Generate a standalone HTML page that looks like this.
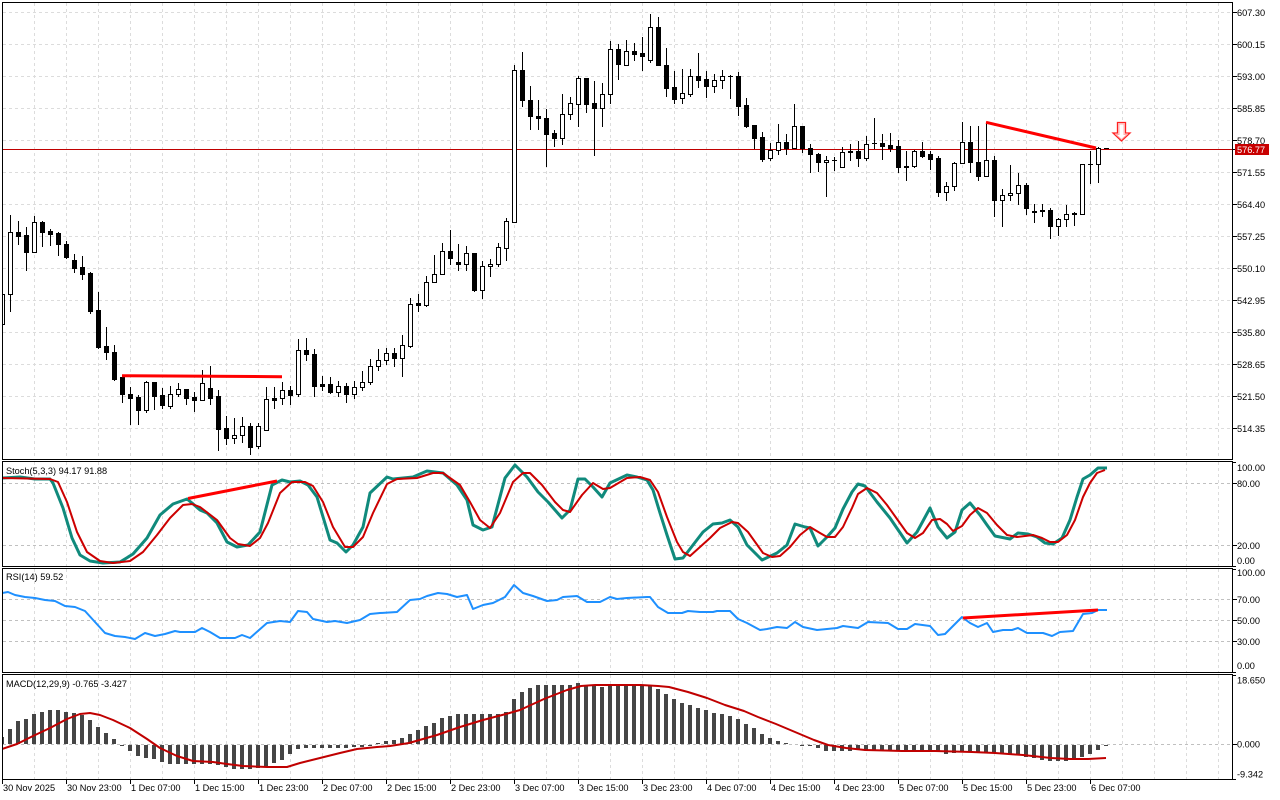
<!DOCTYPE html>
<html><head><meta charset="utf-8">
<style>
html,body{margin:0;padding:0;background:#fff;}
svg{display:block;}
text{font-family:"Liberation Sans",sans-serif;font-size:9.2px;fill:#000;}
</style></head><body>
<svg id="s" width="1280" height="800" viewBox="0 0 1280 800" xmlns="http://www.w3.org/2000/svg">
<rect width="1280" height="800" fill="#fff"/>
<defs>
<clipPath id="cm"><rect x="2" y="2" width="1230" height="457"/></clipPath>
<clipPath id="cs"><rect x="3" y="462" width="1229" height="104"/></clipPath>
<clipPath id="cr"><rect x="3" y="569" width="1229" height="103"/></clipPath>
<clipPath id="cd"><rect x="3" y="675" width="1229" height="104"/></clipPath>
</defs>

<g id="grid" shape-rendering="crispEdges"></g>

<!-- main pane content -->
<g clip-path="url(#cm)">
  <line x1="2" y1="149.5" x2="1232" y2="149.5" stroke="#c00000" stroke-width="1" shape-rendering="crispEdges"/>
  <g id="cndl" shape-rendering="crispEdges"></g>
  <line x1="122" y1="375.7" x2="282" y2="376.7" stroke="#ff0000" stroke-width="3"/>
  <line x1="986" y1="122.3" x2="1096" y2="148" stroke="#ff0000" stroke-width="3"/>
  <polygon points="1117.5,122.5 1125.5,122.5 1125.5,133 1130,133 1121.5,141 1113,133 1117.5,133" fill="#fff" stroke="#ff2020" stroke-width="1.3"/>
  <polygon points="1119,124 1124,124 1124,134.5 1127,134.5 1121.5,139.5 1116,134.5 1119,134.5" fill="none" stroke="#ffb0b0" stroke-width="1"/>
</g>

<!-- stochastic -->
<g clip-path="url(#cs)" fill="none" stroke-linejoin="round">
  <polyline stroke="#108a7c" stroke-width="3" points="2,478 20,477 35,479 50,479 53,483 63,508 72,538 80,555 90,561 103,563 120,562 133,554 147,538 160,515 173,504 187,499 192,503 200,510 207,513 217,523 227,542 237,547 248,545 260,532 272,485 282,480 290,482 300,481 308,485 317,497 330,540 337,543 346,552 353,545 363,527 370,493 387,477 393,479 413,477 427,471 443,473 457,485 467,500 473,525 483,530 492,527 505,478 515,465 527,477 538,492 548,502 562,518 570,510 578,479 585,479 593,487 602,497 610,483 627,475 637,477 647,480 653,490 660,513 667,535 675,559 683,558 693,545 703,532 713,524 722,523 730,520 738,527 747,545 762,560 777,553 787,545 795,524 805,527 810,528 818,546 827,537 835,528 843,509 852,492 858,484 865,486 877,502 890,518 907,543 917,532 930,508 938,527 947,538 955,532 962,510 970,503 980,515 987,525 995,536 1010,539 1018,533 1028,534 1037,537 1045,543 1053,544 1062,538 1070,520 1077,497 1083,479 1090,475 1098,468 1107,468"/>
  <polyline stroke="#cc0000" stroke-width="2" points="2,478 50,479 58,482 67,502 77,532 87,552 100,561 113,563 130,561 143,552 157,535 170,518 183,505 192,504 200,507 217,520 230,538 238,544 250,546 260,538 268,523 280,493 292,482 305,482 313,486 323,502 333,527 345,547 353,547 363,537 373,513 387,484 397,479 417,478 433,473 443,473 460,485 470,502 480,520 490,528 500,513 513,482 523,473 530,473 542,485 555,502 563,510 570,512 582,495 593,483 603,489 610,488 627,478 640,477 650,480 658,492 667,517 677,542 683,552 690,556 700,547 710,538 720,528 732,522 738,523 748,532 763,553 772,557 780,556 790,547 800,535 810,527 820,533 827,537 835,537 843,527 852,508 858,494 867,488 877,493 887,505 897,519 907,533 915,538 923,533 932,520 940,519 947,524 953,531 962,526 970,515 978,508 987,513 997,525 1007,535 1017,537 1033,535 1042,538 1050,542 1058,542 1067,535 1075,520 1083,497 1090,483 1097,473 1105,470"/>
  <line x1="188" y1="498.5" x2="277" y2="481" stroke="#ff0000" stroke-width="3"/>
</g>

<!-- RSI -->
<g clip-path="url(#cr)" fill="none" stroke-linejoin="round">
  <polyline stroke="#1e90ff" stroke-width="2" points="2,593 8,592 15,595 25,597 35,598 45,600 55,601 65,606 75,607 85,611 95,622 105,633 115,636 125,637 135,639 145,633 155,636 165,634 175,631 180,632 195,632 202,628 210,632 220,638 235,638 242,635 250,638 267,623 280,621 290,622 298,611 307,612 313,619 327,622 335,621 347,623 360,620 370,614 380,613 397,612 410,600 420,599 427,596 438,593 447,594 457,597 467,595 473,609 483,605 493,603 505,597 514,585 523,593 533,596 547,601 557,600 563,597 577,596 587,602 600,602 610,597 617,599 627,598 647,597 650,597 658,607 668,613 682,613 688,611 700,612 713,612 717,611 730,611 738,619 747,623 760,630 767,629 777,627 787,628 795,622 803,627 817,630 837,628 843,626 858,628 868,622 888,623 898,629 907,629 915,624 930,626 938,635 945,634 962,617 970,623 978,627 987,623 993,632 1003,630 1012,630 1018,628 1027,633 1043,633 1052,636 1060,632 1073,631 1083,614 1092,613 1098,610 1107,610"/>
  <line x1="963" y1="618" x2="1098" y2="610" stroke="#ff0000" stroke-width="3"/>
</g>

<!-- MACD -->
<g clip-path="url(#cd)">
  <path id="hist" fill="#454545" shape-rendering="crispEdges" d=""/>
  <polyline fill="none" stroke="#c00000" stroke-width="2" stroke-linejoin="round" points="2,749 17,744 33,736 50,728 67,719 80,714 90,713 100,715 113,720 130,728 147,739 160,748 177,756 193,761 213,762 227,764 243,766 267,767 287,767 300,763 320,758 340,753 357,749 377,747 390,746 409,743 437,735 460,727 483,720 506,714 520,710 544,699 567,690 581,686 595,685 641,685 658,686 669,687 688,692 707,698 725,705 744,711 758,717 776,724 795,732 814,740 828,745 846,748 865,750 902,751 935,751 972,752 995,753 1023,755 1051,758 1070,759 1088,759 1106,758"/>
</g>

<!-- pane borders -->
<g fill="none" stroke="#000" stroke-width="1" shape-rendering="crispEdges">
  <rect x="2.5" y="2.5" width="1230" height="457"/>
  <rect x="2.5" y="461.5" width="1230" height="105"/>
  <rect x="2.5" y="568.5" width="1230" height="104"/>
  <rect x="2.5" y="674.5" width="1230" height="105"/>
</g>
<g id="ticks" stroke="#000" stroke-width="1" shape-rendering="crispEdges"></g>

<!-- indicator labels -->
<text x="6" y="474">Stoch(5,3,3) 94.17 91.88</text>
<text x="6" y="580">RSI(14) 59.52</text>
<text x="6" y="687">MACD(12,29,9) -0.765 -3.427</text>

<!-- price axis -->
<g>
<text x="1237" y="16">607.30</text>
<text x="1237" y="48">600.15</text>
<text x="1237" y="80">593.00</text>
<text x="1237" y="112">585.85</text>
<text x="1237" y="144">578.70</text>
<text x="1237" y="176">571.55</text>
<text x="1237" y="208">564.40</text>
<text x="1237" y="240">557.25</text>
<text x="1237" y="272">550.10</text>
<text x="1237" y="304">542.95</text>
<text x="1237" y="336">535.80</text>
<text x="1237" y="368">528.65</text>
<text x="1237" y="400">521.50</text>
<text x="1237" y="432">514.35</text>
<rect x="1235" y="144" width="34" height="11" fill="#c80000"/>
<text x="1237" y="153" style="fill:#fff">576.77</text>

<text x="1237" y="471">100.00</text>
<text x="1237" y="487">80.00</text>
<text x="1237" y="549">20.00</text>
<text x="1237" y="564">0.00</text>

<text x="1237" y="576">100.00</text>
<text x="1237" y="603">70.00</text>
<text x="1237" y="624">50.00</text>
<text x="1237" y="645">30.00</text>
<text x="1237" y="669">0.00</text>

<text x="1237" y="683.5">18.650</text>
<text x="1237" y="747.5">0.000</text>
<text x="1237" y="777.5">-9.342</text>
</g>

<!-- time axis -->
<g>
<text x="3" y="791">30 Nov 2025</text>
<text x="67" y="791">30 Nov 23:00</text>
<text x="131" y="791">1 Dec 07:00</text>
<text x="195" y="791">1 Dec 15:00</text>
<text x="259" y="791">1 Dec 23:00</text>
<text x="323" y="791">2 Dec 07:00</text>
<text x="387" y="791">2 Dec 15:00</text>
<text x="451" y="791">2 Dec 23:00</text>
<text x="515" y="791">3 Dec 07:00</text>
<text x="579" y="791">3 Dec 15:00</text>
<text x="643" y="791">3 Dec 23:00</text>
<text x="707" y="791">4 Dec 07:00</text>
<text x="771" y="791">4 Dec 15:00</text>
<text x="835" y="791">4 Dec 23:00</text>
<text x="899" y="791">5 Dec 07:00</text>
<text x="963" y="791">5 Dec 15:00</text>
<text x="1027" y="791">5 Dec 23:00</text>
<text x="1091" y="791">6 Dec 07:00</text>
</g>
</svg>

<script>
(function(){
var NS="http://www.w3.org/2000/svg";
function mk(parent,tag,attrs){var e=document.createElementNS(NS,tag);for(var k in attrs)e.setAttribute(k,attrs[k]);parent.appendChild(e);return e;}

/* grid */
var grid=document.getElementById('grid');
var v='',h='',lv='';
for(var x=34;x<=1218;x+=32){
  v+='M'+(x+.5)+' 3V459M'+(x+.5)+' 462V566M'+(x+.5)+' 569V672M'+(x+.5)+' 675V779';
}
for(var y=12;y<=428;y+=32){h+='M3 '+(y+.5)+'H1232';}
[483,545,599,620,641,744].forEach(function(y){lv+='M3 '+(y+.5)+'H1232';});
mk(grid,'path',{d:v,stroke:'#dcdcdc','stroke-width':1,'stroke-dasharray':'3,3',fill:'none'});
mk(grid,'path',{d:h,stroke:'#dcdcdc','stroke-width':1,'stroke-dasharray':'3,3',fill:'none'});
mk(grid,'path',{d:lv,stroke:'#c0c0c0','stroke-width':1,'stroke-dasharray':'3,3',fill:'none'});

/* candles: [bull, bodyTop, bodyBottom, wickTop, wickBottom] */
var D=[
[1,294,324,294,324],[1,232,294,215,311],[0,232,236,221,244],[0,235,252,227,270],[1,222,252,216,252],
[0,222,232,221,246],[0,231,234,229,245],[0,233,244,232,255],[0,244,257,241,258],[0,260,268,254,272],
[0,267,274,256,279],[0,273,311,272,313],[0,310,347,292,348],[0,346,352,327,359],[0,352,379,345,380],
[0,377,394,375,402],[0,394,398,387,424],[0,397,410,395,424],[1,382,410,381,412],[0,382,396,382,409],
[0,395,405,388,408],[1,394,406,386,408],[1,389,394,383,396],[0,389,398,389,404],[0,397,400,392,411],
[1,383,400,370,400],[0,388,398,366,404],[0,396,429,390,450],[0,428,438,416,444],[1,435,438,418,443],
[1,426,435,417,442],[0,426,447,423,454],[1,426,446,423,448],[1,399,430,387,430],[0,398,400,387,408],
[1,390,398,382,404],[0,390,395,386,404],[1,350,394,339,396],[0,350,354,338,360],[0,354,386,349,396],
[0,384,386,376,390],[0,384,392,377,393],[1,386,392,381,396],[0,386,394,383,402],[1,387,394,381,398],
[1,382,387,371,390],[1,366,382,359,384],[1,360,366,349,370],[1,353,360,348,364],[0,353,358,348,366],
[1,345,358,335,376],[1,304,346,298,347],[0,303,305,294,311],[1,282,305,276,306],[1,274,282,255,282],
[1,251,274,243,274],[0,251,258,230,264],[0,262,264,244,270],[1,253,264,246,270],[0,253,290,253,291],
[1,266,290,261,298],[1,264,266,259,276],[1,247,264,243,266],[1,221,248,218,260],[1,70,222,65,222],
[0,70,100,52,106],[0,100,116,86,129],[0,116,118,100,129],[0,118,134,109,166],[0,133,138,130,146],
[1,114,138,94,144],[1,103,114,97,119],[1,78,104,76,126],[0,78,104,78,112],[0,103,108,81,155],
[1,94,108,83,126],[1,49,94,41,103],[0,49,64,44,79],[1,51,65,40,65],[0,51,54,43,60],
[0,53,56,37,70],[1,27,60,14,62],[0,27,65,17,65],[0,65,88,48,96],[0,87,99,71,103],
[1,93,98,69,103],[1,76,94,69,96],[0,76,80,53,87],[0,79,86,71,97],[1,80,86,74,92],
[1,76,80,70,88],[0,76,76,75,98],[0,76,106,72,115],[0,105,126,98,127],[0,125,138,125,148],
[0,137,159,132,161],[1,150,158,143,160],[1,142,150,124,154],[0,142,148,134,154],[1,126,148,104,148],
[0,126,148,126,152],[0,148,154,144,172],[0,154,162,153,171],[1,160,162,156,196],[0,160,160,157,170],
[1,152,167,147,167],[0,151,152,144,160],[0,151,158,141,166],[1,144,158,136,160],[0,143,143,118,148],
[0,143,146,134,159],[0,145,148,133,151],[0,146,167,140,172],[0,166,167,151,180],[1,151,166,150,167],
[0,151,156,142,157],[0,154,159,151,169],[0,158,192,156,196],[1,186,192,182,200],[1,163,186,162,190],
[1,142,163,122,163],[0,142,162,126,172],[0,162,176,126,180],[1,160,176,122,176],[0,160,200,156,216],
[1,195,200,189,226],[1,193,195,165,200],[1,185,193,173,204],[0,185,208,183,214],[0,211,212,204,222],
[0,210,211,204,216],[0,210,226,208,238],[1,219,226,218,235],[1,214,219,205,226],[0,213,214,212,225],
[1,164,214,164,214],[1,164,164,151,183],[1,148,164,147,182],[0,148,148,148,148]
];
var wick='',bear='',bull='';
D.forEach(function(d,k){
  var cx=2+8*k,b=d[0],bt=d[1],bb=d[2],wt=d[3],wb=d[4];
  if(wb>wt) wick+='M'+(cx+.5)+' '+wt+'V'+(wb+1);
  if(b && bb-bt>=2){
    bull+='M'+(cx-1.5)+' '+(bt+.5)+'H'+(cx+2.5)+'V'+(bb+.5)+'H'+(cx-1.5)+'Z';
  } else {
    bear+='M'+(cx-2)+' '+bt+'h5v'+Math.max(bb-bt+1,1)+'h-5z';
  }
});
var cg=document.getElementById('cndl');
mk(cg,'path',{d:wick,stroke:'#000','stroke-width':1,fill:'none'});
mk(cg,'path',{d:bull,stroke:'#000','stroke-width':1,fill:'#fff'});
mk(cg,'path',{d:bear,fill:'#000'});

/* MACD histogram: pixel y of bar end (zero = 744) */
var H=[737,729,721,719,714,712,710,710,712,713,715,720,727,733,739,746,751,756,758,759,
762,764,764,764,764,764,764,765,767,769,769,769,768,766,763,760,754,749,748,748,
748,748,748,748,747,747,746,743,741,740,738,734,730,726,723,718,716,714,714,714,
714,714,714,712,699,692,688,685,685,685,685,685,683,685,685,687,685,685,685,685,
686,686,689,694,699,703,705,708,710,713,714,716,719,724,728,734,738,741,743,744,
746,746,748,751,751,751,751,750,750,750,750,750,750,750,750,750,751,752,754,753,
752,752,752,752,753,754,755,755,757,758,760,761,761,761,759,757,754,750,746];
var hp='';
H.forEach(function(t,k){
  var cx=2+8*k;
  if(t<744){hp+='M'+(cx-2)+' '+t+'h4V744h-4z';}
  else if(t>744){hp+='M'+(cx-2)+' 745h4V'+Math.max(t,746)+'h-4z';}
});
document.getElementById('hist').setAttribute('d',hp);

/* axis ticks */
var tk='';
[12,44,76,108,140,172,204,236,268,300,332,364,396,428,149,483,545,599,620,641,744].forEach(function(y){tk+='M1233 '+(y+.5)+'H1237';});
[462,566,569,672,675,779].forEach(function(y){tk+='M1233 '+(y+.5)+'H1236';});
for(var x=2;x<=1090;x+=64){tk+='M'+(x+.5)+' 780V784';}
mk(document.getElementById('ticks'),'path',{d:tk,fill:'none'});
})();
</script>
</body></html>
